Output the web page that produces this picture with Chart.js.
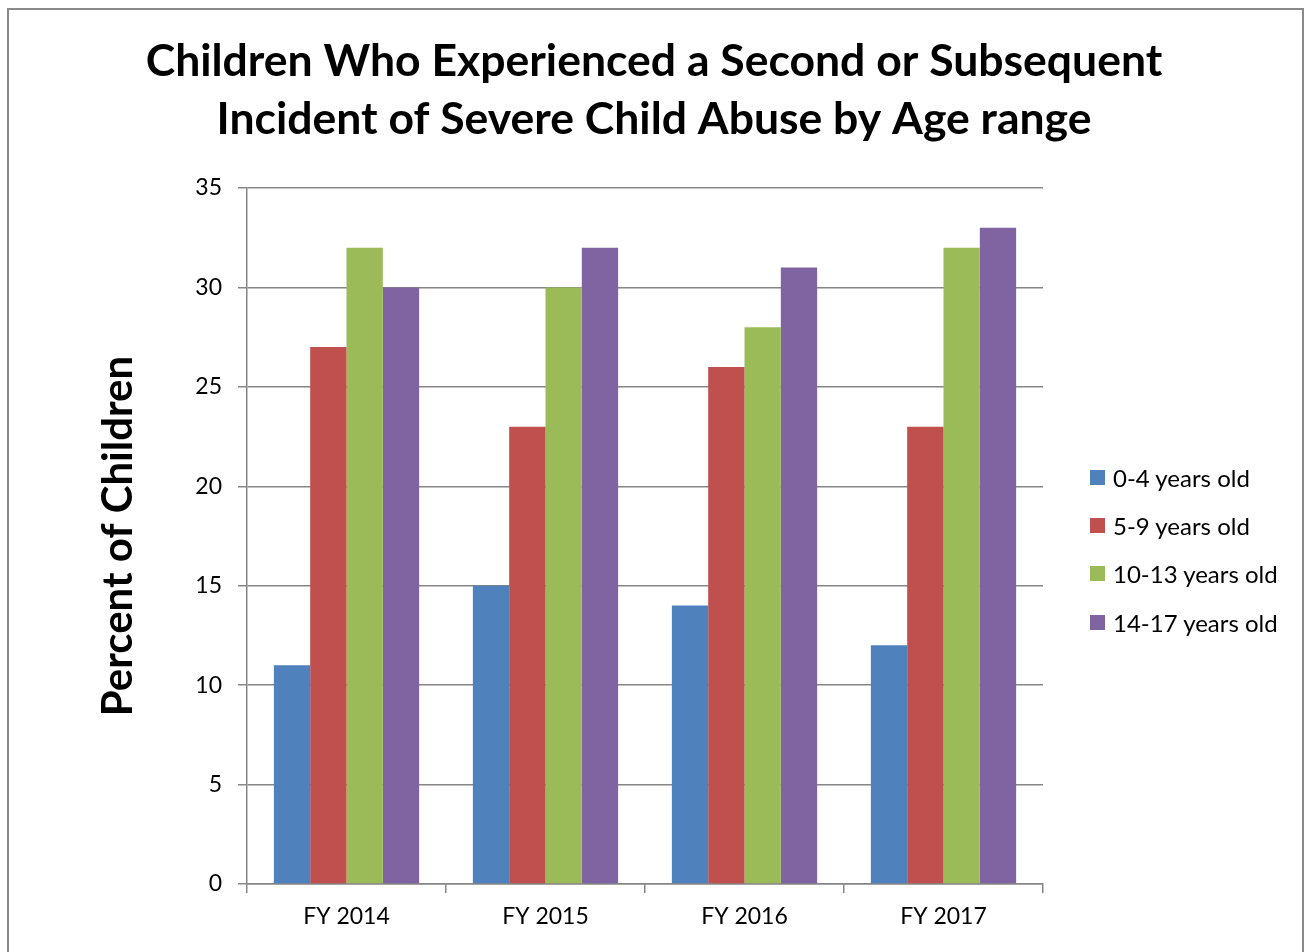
<!DOCTYPE html>
<html>
<head>
<meta charset="utf-8">
<title>Repeat severe abuse by age range</title>
<script src="https://cdn.jsdelivr.net/npm/chart.js@4/dist/chart.umd.min.js"></script>
<style>
  html, body { margin: 0; padding: 0; background: #fff; }
  #wrap { position: relative; width: 1308px; height: 952px; overflow: hidden; }
  #frame {
    position: absolute; left: 7px; top: 8px; width: 1297px; height: 1000px;
    border: 2px solid #8a8a8a; box-sizing: border-box;
  }
  #chart { position: absolute; left: 0; top: 0; }
  #legend {
    position: absolute; left: 1090px; top: 453px;
    font-family: Lato, sans-serif; font-size: 24px; color: #000;
  }
  #legend .item { display: flex; align-items: center; height: 48.3px; }
  #legend .swatch { width: 15px; height: 15px; margin-right: 8px; }
</style>
</head>
<body>
<div id="wrap">
  <div id="frame"></div>
  <canvas id="chart" width="1308" height="952"></canvas>
  <div id="legend"></div>
</div>
<script>
const fiscalYears = ["FY 2014", "FY 2015", "FY 2016", "FY 2017"];
const ageRanges = ["0-4 years old", "5-9 years old", "10-13 years old", "14-17 years old"];

// percent of children per fiscal year
const age0to4 = [11, 15, 14, 12];
const age5to9 = [27, 23, 26, 23];
const age10to13 = [32, 30, 28, 32];
const age14to17 = [30, 32, 31, 33];

const yMin = 0;
const yMax = 35;
const yStep = 5;

const seriesColors = ["#4f81bd", "#c0504d", "#9bbb59", "#8064a2"];
const axisGray = "#868686";

Chart.defaults.font.family = "Lato, sans-serif";
Chart.defaults.color = "#000";

const series = [age0to4, age5to9, age10to13, age14to17];

const chart = new Chart(document.getElementById("chart"), {
  type: "bar",
  data: {
    labels: fiscalYears,
    datasets: series.map((values, i) => ({
      label: ageRanges[i],
      data: values,
      yAxisID: "y",
      backgroundColor: seriesColors[i],
      categoryPercentage: 0.73,
      barPercentage: 1,
    })),
  },
  options: {
    responsive: false,
    animation: false,
    devicePixelRatio: 1,
    layout: { padding: 0 },
    plugins: {
      legend: { display: false },
      tooltip: { enabled: false },
      title: {
        display: true,
        text: [
          "Children Who Experienced a Second or Subsequent",
          "Incident of Severe Child Abuse by Age range",
        ],
        color: "#000",
        font: { size: 44.5, weight: "bold", lineHeight: "58px" },
        padding: { top: 33, bottom: 39 },
      },
    },
    scales: {
      x: {
        grid: {
          display: true,
          drawOnChartArea: false,
          tickLength: 9,
          color: axisGray,
          lineWidth: 1.5,
        },
        border: { display: true, color: axisGray, width: 1.5 },
        ticks: { font: { size: 23 }, padding: 10 },
        afterFit: (scale) => { scale.height = 68; },
      },
      y: {
        min: yMin,
        max: yMax,
        grid: { color: axisGray, lineWidth: 1.5, tickLength: 9 },
        border: { display: true, color: axisGray, width: 1.5 },
        ticks: { stepSize: yStep, font: { size: 23 }, padding: 16 },
        title: {
          display: true,
          text: "Percent of Children",
          color: "#000",
          font: { size: 42, weight: "bold" },
          padding: { top: 93, bottom: 0 },
        },
        afterFit: (scale) => { scale.width = 247; },
      },
      // empty axis on the right keeps room for the html legend
      legendSpace: {
        position: "right",
        display: true,
        grid: { display: false },
        border: { display: false },
        ticks: { display: false },
        afterFit: (scale) => { scale.width = 265; },
      },
    },
  },
});

// html legend built from the chart's datasets
const legendEl = document.getElementById("legend");
chart.data.datasets.forEach((ds) => {
  const row = document.createElement("div");
  row.className = "item";
  const swatch = document.createElement("span");
  swatch.className = "swatch";
  swatch.style.background = ds.backgroundColor;
  const text = document.createElement("span");
  text.textContent = ds.label;
  row.appendChild(swatch);
  row.appendChild(text);
  legendEl.appendChild(row);
});
</script>
</body>
</html>
